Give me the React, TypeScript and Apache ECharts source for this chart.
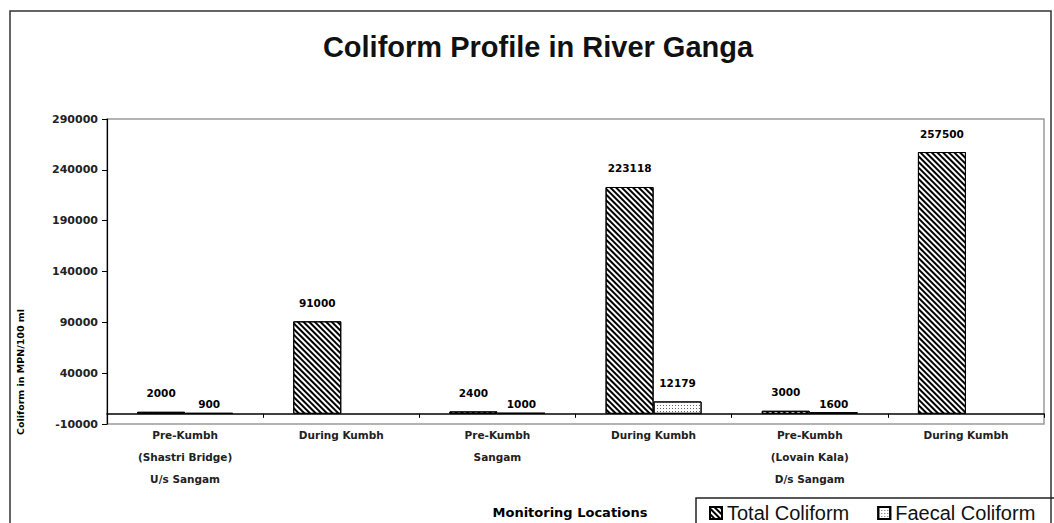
import React, { useEffect, useRef } from "react";
import * as echarts from "echarts";

// Monitoring locations (category axis)
const locations: string[] = [
  "Pre-Kumbh\n(Shastri Bridge)\nU/s Sangam",
  "During Kumbh",
  "Pre-Kumbh\nSangam",
  "During Kumbh",
  "Pre-Kumbh\n(Lovain Kala)\nD/s Sangam",
  "During Kumbh",
];

// Coliform counts, MPN/100 ml
const totalColiform: (number | null)[] = [2000, 91000, 2400, 223118, 3000, 257500];
const faecalColiform: (number | null)[] = [900, null, 1000, 12179, 1600, null];

// Value axis ticks
const yMin = -10000;
const yMax = 290000;
const yStep = 50000;

const smallFont = "'DejaVu Sans', Verdana, sans-serif";

export default function App() {
  const ref = useRef<HTMLDivElement>(null);

  useEffect(() => {
    if (!ref.current) return;
    const chart = echarts.init(ref.current, null, { renderer: "svg" });

    const labelStyle = {
      show: true,
      position: "top" as const,
      distance: 13,
      color: "#000",
      fontFamily: smallFont,
      fontWeight: "bold" as const,
      fontSize: 10.5,
    };

    // Tiny faecal bars carry their labels close to the bar top
    const faecalData = faecalColiform.map((v) =>
      v !== null && v < 5000 ? { value: v, label: { distance: 3 } } : v
    );

    chart.setOption({
      animation: false,
      backgroundColor: "#fff",
      title: {
        text: "Coliform Profile in River Ganga",
        left: 533,
        top: 27,
        textAlign: "center",
        textStyle: {
          fontFamily: "'Liberation Sans', Arial, sans-serif",
          fontWeight: "bold",
          fontSize: 29,
          color: "#111",
        },
      },
      legend: {
        left: 704,
        top: 498,
        itemWidth: 12,
        itemHeight: 12,
        itemGap: 28,
        icon: "rect",
        textStyle: {
          fontFamily: "'Liberation Sans', Arial, sans-serif",
          fontSize: 20,
          color: "#111",
        },
        data: ["Total Coliform", "Faecal Coliform"],
      },
      grid: {
        left: 107,
        right: 10,
        top: 119,
        bottom: 99,
        show: true,
        borderColor: "#9a9a9a",
        borderWidth: 1.5,
        backgroundColor: "#fff",
      },
      xAxis: {
        type: "category",
        data: locations,
        axisLine: { onZero: true, lineStyle: { color: "#000", width: 1.5 } },
        axisTick: { show: true, length: 4, lineStyle: { color: "#000" } },
        axisLabel: {
          margin: 0,
          interval: 0,
          color: "#222",
          fontFamily: smallFont,
          fontWeight: "bold",
          fontSize: 10.5,
          lineHeight: 22,
        },
      },
      yAxis: {
        type: "value",
        min: yMin,
        max: yMax,
        interval: yStep,
        splitLine: { show: false },
        axisLine: { show: true, lineStyle: { color: "#000", width: 1.2 } },
        axisTick: { show: true, length: 5, lineStyle: { color: "#000" } },
        axisLabel: {
          margin: 9,
          color: "#222",
          fontFamily: smallFont,
          fontWeight: "bold",
          fontSize: 11,
          formatter: (v: number) => String(v),
        },
      },
      series: [
        {
          name: "Total Coliform",
          type: "bar",
          data: totalColiform,
          barWidth: 48,
          barGap: "0%",
          itemStyle: {
            color: "#fff",
            borderColor: "#000",
            borderWidth: 1,
            decal: {
              symbol: "rect",
              symbolSize: 1,
              color: "#000",
              dashArrayX: [1, 0],
              dashArrayY: [2, 2],
              rotation: Math.PI / 4,
            },
          },
          label: labelStyle,
        },
        {
          name: "Faecal Coliform",
          type: "bar",
          data: faecalData,
          barWidth: 48,
          barGap: "0%",
          itemStyle: {
            color: "#fff",
            borderColor: "#000",
            borderWidth: 1,
            decal: {
              symbol: "rect",
              symbolSize: 1,
              color: "#666",
              dashArrayX: [1, 2],
              dashArrayY: [1, 2],
              rotation: 0,
            },
          },
          label: labelStyle,
        },
      ],
      graphic: [
        {
          type: "rect",
          shape: { x: 10, y: 11, width: 1041, height: 530 },
          style: { fill: "none", stroke: "#333", lineWidth: 1.5 },
          silent: true,
          z: 100,
        },
        {
          type: "rect",
          shape: { x: 696, y: 498, width: 360, height: 40 },
          style: { fill: "none", stroke: "#222", lineWidth: 1.5 },
          silent: true,
          z: 100,
        },
        {
          type: "text",
          x: 570,
          y: 512,
          style: {
            text: "Monitoring Locations",
            fontFamily: smallFont,
            fontWeight: "bold",
            fontSize: 13,
            fill: "#000",
            align: "center",
            verticalAlign: "middle",
          },
        },
        {
          type: "text",
          x: 20,
          y: 372,
          rotation: Math.PI / 2,
          style: {
            text: "Coliform in MPN/100 ml",
            fontFamily: smallFont,
            fontWeight: "bold",
            fontSize: 9.5,
            fill: "#000",
            align: "center",
            verticalAlign: "middle",
          },
        },
      ],
    });

    return () => chart.dispose();
  }, []);

  return (
    <div
      ref={ref}
      style={{ position: "fixed", left: 0, top: 0, width: 1054, height: 523 }}
    />
  );
}
